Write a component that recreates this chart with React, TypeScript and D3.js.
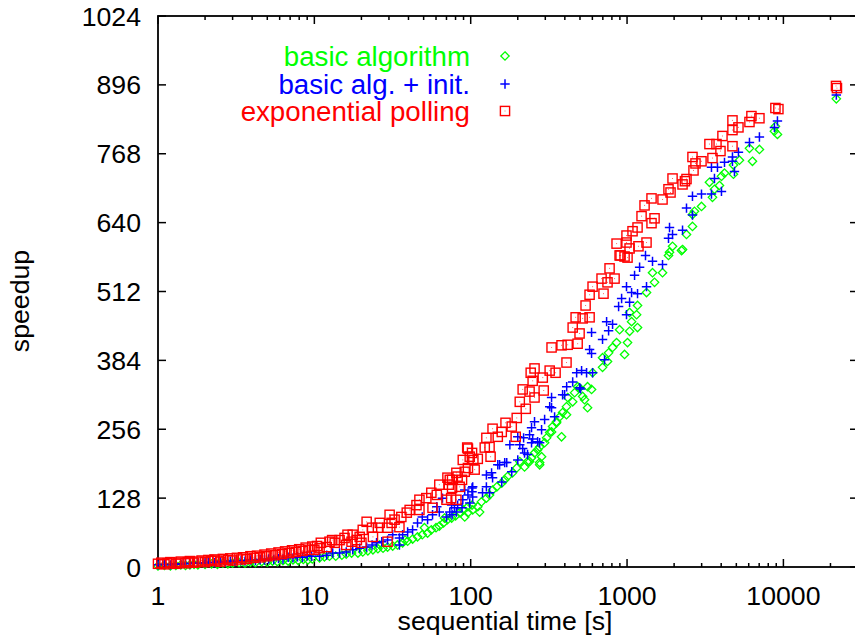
import React from 'react';
import * as d3 from 'd3';

const W = 855;
const H = 639;

const xMajorTicks = [1, 10, 100, 1000, 10000];
const yTicks = [0, 128, 256, 384, 512, 640, 768, 896, 1024];
const seriesNames = ['basic algorithm', 'basic alg. + init.', 'exponential polling'];
const seriesColors = ['#00ff00', '#0000ff', '#ff0000'];

// [sequential time (s), speedup]
const basicAlg: [number, number][] = [
  [1.0,2],[1.1,3],[1.2,2],[1.3,3],[1.4,4],[1.5,3],[1.6,4],[1.7,5],[1.8,4],[2.0,5],[2.2,6],[2.4,5],[2.6,7],[2.8,6],[3.0,7],[3.3,8],[3.6,7],[3.9,9],[4.2,8],[4.6,10],[5.0,9],[5.4,11],[5.8,10],[6.3,12],[6.8,11],[7.3,13],[7.9,12],[8.5,14],[9.1,13],[9.7,15],
  [10.8,17],[11.6,19],[12.5,20],[13.7,20],[15,22],[16,24],[17.3,26],[19,26],[20.4,28],[22,30],[23.7,32],[25.5,34],[27.5,35],[29.4,37],[31.7,39],[34,41],[36.7,45],[39.5,48],[42.5,52],[45.7,56],[49,60],[53,63],[56,69],[60,73],[63,76],[67,82],[71,88],[75.5,91],[80,95],[85,101],[90,106],[96,112],[102,115],[26.2,41],[38,50],[50.6,73],[68,91],
  [114,102],[103,106],[96,101],[91.6,93],[111,112],[117,121],[126,128],[132,134],[138,143],[147,149],[158,156],[165,162],[172,168],[185,175],[197,184],[206,196],[221,186],[231,196],[276,194],[284,205],[245,203],[256,212],[268,218],[297,231],[306,240],[320,250],[381,242],[334,261],[354,270],[371,279],[387,287],[410,298],[417,315],[462,324],[483,335],[329,251],[276,223],[238,196],[276,190],[354,268],[410,283],[449,307],[559,296],[535,311],[520,317],[593,330],[497,333],[559,335],[602,361],[750,382],[697,371],[697,389],[762,398],[964,395],[808,408],[1007,417],[857,417],
  [896,441],[1038,438],[1167,445],[1069,456],[1038,473],[1151,469],[1167,486],[1332,510],[1499,529],[1455,547],[1686,547],[1841,579],[1869,585],[2230,588],[1954,596],[2264,590],[2400,618],[2621,633],[2621,655],[2700,661],[2993,670],[3518,687],[3365,715],[3623,702],[3899,709],[4017,726],[4200,732],[4792,730],[4792,747],[5234,756],[6340,754],[6067,778],[7025,776],[8760,810],[9160,804],[8890,819],
  [21800,870],
];

const basicInit: [number, number][] = [
  [1.0,4],[1.1,5],[1.2,4],[1.3,6],[1.4,5],[1.5,7],[1.6,6],[1.7,8],[1.8,7],[2.0,8],[2.1,9],[2.3,8],[2.5,10],[2.7,9],[2.9,11],[3.1,10],[3.4,12],[3.6,11],[3.9,13],[4.2,12],[4.5,14],[4.8,13],[5.1,15],[5.5,14],[5.9,16],[6.3,15],[6.8,18],[7.3,17],[7.8,19],[8.4,18],[9.0,21],[9.6,20],
  [10.8,20],[12,22],[13.1,26],[14.5,26],[16,28],[17.6,32],[19.5,35],[21.6,37],[23.4,41],[25,45],[27,47],[29.4,50],[31.7,60],[35,54],[35,41],[36.7,60],[39.5,65],[42.5,69],[45.7,82],[49,93],[53,88],[57,97],[60.7,112],[63,102],[66,128],[70,93],[73.5,102],[75.5,115],[78.7,110],[82.5,115],[89,125],[91.6,143],[96,134],[102,140],[103,149],
  [76,97],[81,102],[88,110],[98.6,119],[103,130],[102,147],[119,138],[132,138],[126,149],[138,166],[158,158],[183,177],[149,190],[165,194],[126,171],[136,175],[153,190],[170,194],[200,199],[215,220],[221,212],[231,209],[178,227],[206,227],[245,231],[268,233],[276,231],[238,246],[200,242],[218,240],[249,238],[284,255],[245,259],[256,270],[297,274],[344,279],[320,298],[329,315],[329,296],[399,320],[387,320],[411,335],[449,344],[476,361],[505,331],[497,333],[512,365],[551,361],[602,361],[718,385],[593,397],[576,404],[593,436],[697,423],[762,439],[808,451],[740,456],[992,469],[883,484],[1038,492],[923,499],
  [1069,510],[992,521],[1167,508],[1332,521],[1117,542],[1203,557],[1455,568],[1312,579],[1686,562],[1841,611],[1954,618],[1869,631],[2264,626],[2621,654],[2400,667],[2621,689],[2993,693],[3467,693],[4017,698],[3623,722],[3467,743],[3787,743],[4200,752],[4864,735],[4723,754],[4723,762],[5158,771],[6067,789],[7025,799],[8760,817],[9160,829],
  [21800,877],
];

const expPolling: [number, number][] = [
  [1.0,6],[1.05,8],[1.1,5],[1.15,7],[1.2,9],[1.3,6],[1.35,8],[1.4,10],[1.5,7],[1.55,9],[1.6,11],[1.7,8],[1.8,10],[1.9,12],[2.0,9],[2.1,13],[2.2,11],[2.3,14],[2.4,12],[2.5,10],[2.6,15],[2.8,13],[2.9,16],[3.0,12],[3.2,17],[3.4,14],[3.5,18],[3.7,15],[3.9,20],[4.1,17],[4.3,21],[4.5,18],[4.8,23],[5.0,20],[5.3,25],[5.6,22],[5.9,27],[6.2,24],[6.5,29],[6.9,26],[7.2,31],[7.6,28],[8.0,33],[8.4,30],[8.8,36],[9.3,32],[9.7,38],
  [10,32],[10.4,39],[10.8,35],[11,45],[12,37],[12.5,47],[13,50],[13.5,45],[14.5,50],[15.6,54],[16,41],[16.3,60],[17.3,47],[17.6,60],[18.7,50],[19.5,56],[20,45],[20.4,69],[21.6,84],[23.4,73],[23.7,56],[25.5,73],[26.2,82],[29.4,73],[29.4,47],[30.3,97],[31.2,82],[32.6,88],[35,74],[36,93],[39,101],[40.7,106],[45,115],[47,106],[47,125],[52,128],[56,138],[57,110],[60.7,134],[63,153],[70,125],[71,166],[72.5,153],[73.5,162],[75,128],[76,147],[76,162],[81,125],[81,175],[82.5,168],[85,149],[88,162],[89,199],[91.6,177],[95,222],[96,184],[96,220],[98.6,205],
  [102,212],[104,199],[106,181],[111,201],[123,222],[132,223],[134,205],[126,240],[138,257],[149,242],[158,251],[167,268],[183,261],[194,242],[197,277],[206,307],[215,330],[225,294],[238,326],[242,361],[249,346],[256,315],[256,369],[289,352],[293,328],[320,365],[329,408],[349,361],[381,412],[410,380],[417,413],[449,445],[469,464],[483,415],[497,434],[520,462],[543,486],[576,464],[576,506],[602,521],[687,536],[707,508],[750,529],[773,555],[832,536],[857,601],[896,579],[909,579],[964,577],[992,603],[992,616],
  [1007,575],[1038,592],[1084,624],[1167,631],[1183,596],[1238,652],[1294,672],[1332,603],[1434,639],[1434,685],[1499,648],[1686,683],[1841,702],[1897,696],[1954,722],[2264,711],[2346,717],[2400,721],[2621,762],[2661,737],[2740,750],[2993,754],[3365,786],[3518,760],[3732,786],[3958,773],[4076,801],[4723,782],[4723,812],[4723,830],[5158,817],[6067,827],[6245,838],[7025,834],[8890,853],[9290,851],
  [21700,894],[22000,890],
];

const FONT = "'Liberation Sans', Arial, Helvetica, sans-serif";
const FS = 26.67;
const LEGEND_FS = 27.7;

function Marker({ kind, cx, cy, color }: { kind: number; cx: number; cy: number; color: string }) {
  if (kind === 0) {
    const r = 4.2;
    return (
      <path d={`M${cx},${cy - r}L${cx + r},${cy}L${cx},${cy + r}L${cx - r},${cy}Z`} fill="none" stroke={color} strokeWidth={1.3} />
    );
  }
  if (kind === 1) {
    const r = 4.7;
    return (
      <path d={`M${cx - r},${cy}H${cx + r}M${cx},${cy - r}V${cy + r}`} fill="none" stroke={color} strokeWidth={1.5} />
    );
  }
  const r = 4.6;
  return (
    <g>
      <rect x={cx - r} y={cy - r} width={2 * r} height={2 * r} fill="none" stroke={color} strokeWidth={1.4} />
      <rect x={cx - 0.5} y={cy - 0.5} width={1} height={1} fill={color} opacity={0.6} />
    </g>
  );
}

export default function App() {
  const left = 158, right = 858, top = 16, bottom = 567;
  const x = d3.scaleLog().domain([1, 30000]).range([left, right]);
  const y = d3.scaleLinear().domain([0, 1024]).range([bottom, top]);
  const allXTicks = x.ticks();
  const isMajor = (v: number) => xMajorTicks.includes(v);
  const series = [basicAlg, basicInit, expPolling];
  const legendY = [56, 84, 111];

  return (
    <div>
      <style>{`body{margin:0;}`}</style>
      <svg width={W} height={H} style={{ display: 'block', background: '#fff' }} fontFamily={FONT}>
        <rect x={0} y={0} width={W} height={H} fill="#fff" />
        {/* ticks */}
        <g stroke="#000" strokeWidth={1.5}>
          {allXTicks.map((v, i) => {
            const len = isMajor(v) ? 8 : 4;
            const px = x(v);
            return (
              <g key={'xt' + i}>
                <line x1={px} x2={px} y1={bottom} y2={bottom - len} />
                <line x1={px} x2={px} y1={top} y2={top + len} />
              </g>
            );
          })}
          {yTicks.map((v, i) => (
            <g key={'yt' + i}>
              <line x1={left} x2={left + 8} y1={y(v)} y2={y(v)} />
              <line x1={right} x2={right - 8} y1={y(v)} y2={y(v)} />
            </g>
          ))}
        </g>
        <rect x={left} y={top} width={right - left} height={bottom - top} fill="none" stroke="#000" strokeWidth={1.8} />
        {/* tick labels */}
        {xMajorTicks.map((v) => (
          <text key={'xl' + v} x={x(v)} y={605} textAnchor="middle" fontSize={FS} fill="#000">{v}</text>
        ))}
        {yTicks.map((v) => (
          <text key={'yl' + v} x={141} y={y(v) + 9.5} textAnchor="end" fontSize={FS} fill="#000">{v}</text>
        ))}
        <text x={505} y={630} textAnchor="middle" fontSize={FS} fill="#000">sequential time [s]</text>
        <text transform={`translate(29,301) rotate(-90)`} textAnchor="middle" fontSize={FS} fill="#000">speedup</text>
        {/* data */}
        {series.map((data, si) => (
          <g key={'s' + si}>
            {data.map((d, i) => (
              <Marker key={i} kind={si} cx={x(d[0])} cy={y(d[1])} color={seriesColors[si]} />
            ))}
          </g>
        ))}
        {/* legend */}
        {seriesNames.map((name, i) => (
          <g key={'lg' + i}>
            <text x={470} y={legendY[i] + 9.5} textAnchor="end" fontSize={LEGEND_FS} fill={seriesColors[i]}>{name}</text>
            <Marker kind={i} cx={505} cy={legendY[i]} color={seriesColors[i]} />
          </g>
        ))}
      </svg>
    </div>
  );
}
